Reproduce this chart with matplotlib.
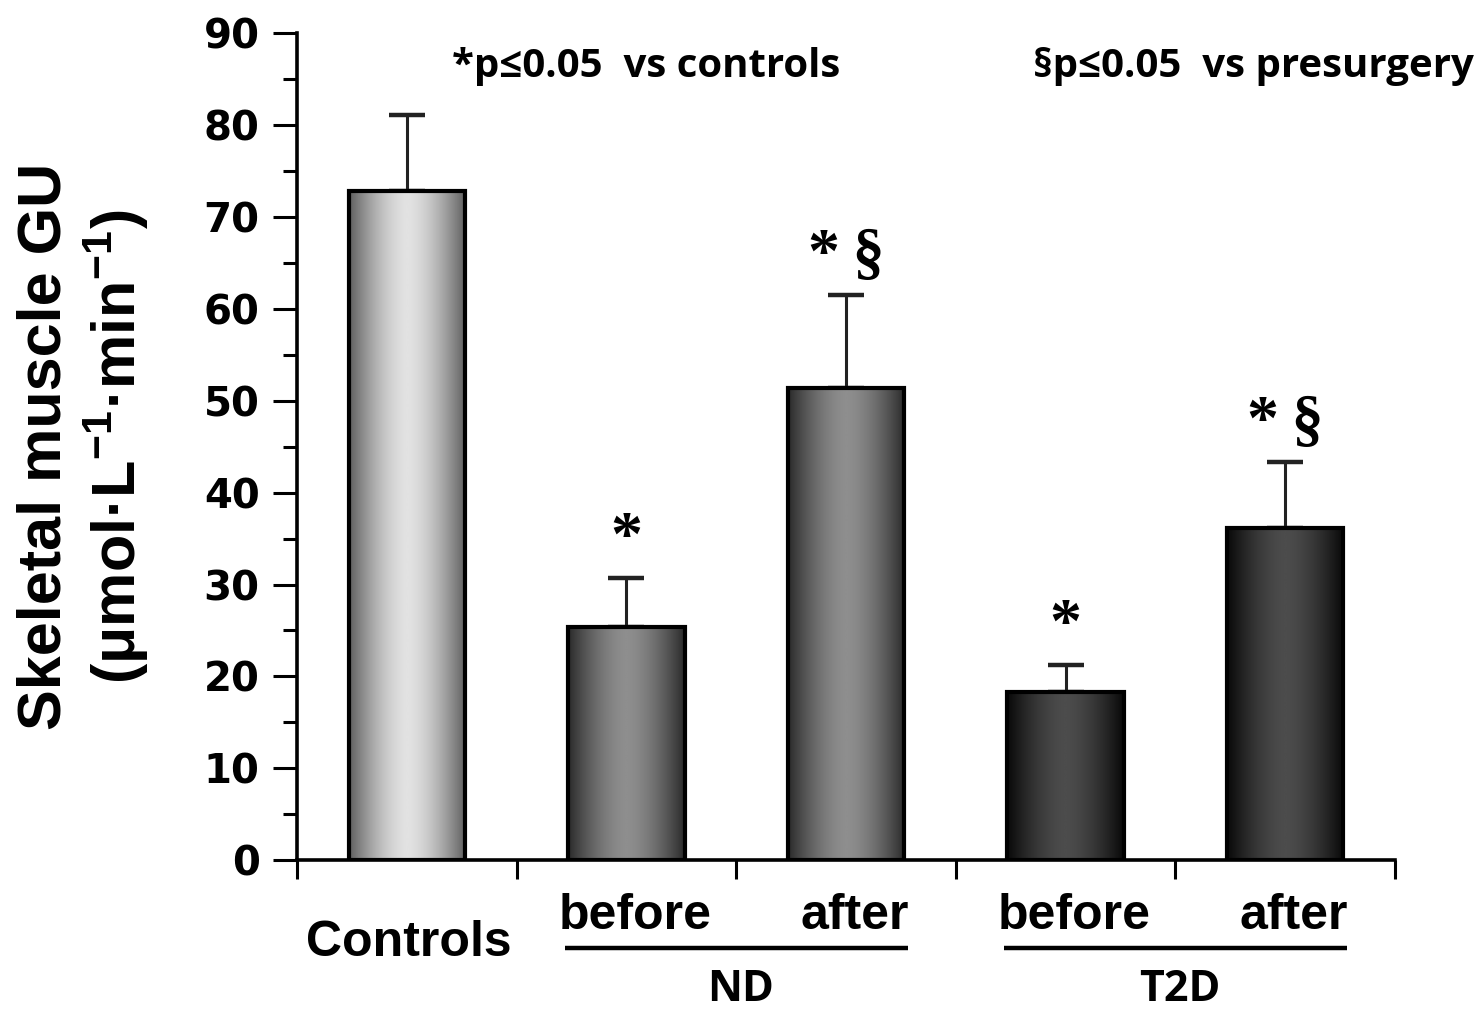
import matplotlib
matplotlib.use("Agg")
import matplotlib.pyplot as plt
import numpy as np
from matplotlib.colors import LinearSegmentedColormap

# data
bar_labels = ['Controls', 'before', 'after', 'before', 'after']
groups = ['ND', 'T2D']
means = [72.8, 25.4, 51.4, 18.3, 36.1]
errors = [8.3, 5.3, 10.1, 2.9, 7.2]
marks = ['', '*', '*\u2009§', '*', '*\u2009§']
notes = ['*p≤0.05  vs controls', '§p≤0.05  vs presurgery']

# bar shading: (edge colour, centre colour)
shades = [('#5e5e5e', '#e2e2e2'), ('#2a2a2a', '#8e8e8e'), ('#2a2a2a', '#8e8e8e'),
          ('#080808', '#4c4c4c'), ('#080808', '#4c4c4c')]

sans = 'Liberation Sans'
plt.rcParams['mathtext.fontset'] = 'custom'
plt.rcParams['mathtext.rm'] = 'Liberation Sans'
plt.rcParams['mathtext.bf'] = 'Liberation Sans:bold'

fig = plt.figure(figsize=(14.83, 10.13), dpi=100)
ax = fig.add_axes([0.2003, 0.151, 0.7404, 0.816])

x = np.arange(len(means))
bars = ax.bar(x, means, width=0.53, facecolor='none', edgecolor='black',
              linewidth=3.0, zorder=3)
ax.errorbar(x, means, yerr=[np.zeros(len(errors)), errors], fmt='none',
            ecolor='#222222', elinewidth=2.2, capsize=13, capthick=3.2, zorder=2)

# gradient fill clipped to each bar
grad = np.abs(np.linspace(-1, 1, 256)) ** 1.6
grad = grad.reshape(1, -1)
for b, (edge, mid) in zip(bars, shades):
    cmap = LinearSegmentedColormap.from_list('g', [mid, edge])
    x0, y0 = b.get_x(), b.get_y()
    im = ax.imshow(grad, cmap=cmap, vmin=0, vmax=1, aspect='auto',
                   extent=[x0, x0 + b.get_width(), y0, y0 + b.get_height()],
                   zorder=2.5, interpolation='bilinear')
    im.set_clip_path(b)

# significance marks above error bars
for xi, m, e, mk in zip(x, means, errors, marks):
    if mk:
        ax.text(xi, m + e + 1.0, mk, ha='center', va='bottom',
                fontsize=46, family='Liberation Serif', fontweight='bold')

ax.set_xlim(-0.5, 4.5)
ax.set_ylim(0, 90)
ax.set_yticks(np.arange(0, 91, 10))
ax.set_yticks(np.arange(5, 90, 10), minor=True)
ax.set_xticks(np.arange(-0.5, 4.6, 1))
ax.set_xticklabels([])
for s in ['top', 'right']:
    ax.spines[s].set_visible(False)
for s in ['left', 'bottom']:
    ax.spines[s].set_linewidth(2.6)
ax.tick_params(axis='y', which='major', length=17, width=2.2, pad=10,
               labelsize=29)
ax.tick_params(axis='y', which='minor', length=10, width=2.2)
ax.tick_params(axis='x', which='major', length=14, width=2.2, direction='out')
for t in ax.get_yticklabels():
    t.set_fontweight('bold')
    t.set_family('DejaVu Sans')

ax.set_ylabel('Skeletal muscle GU\n(μmol·L$^{\\mathbf{-1}}$·min$^{\\mathbf{-1}}$)',
              fontsize=44, fontweight='bold', family=sans, labelpad=38,
              linespacing=1.14)

# category labels under the axis
tr = ax.get_xaxis_transform()
ax.text(0.01, -0.100, bar_labels[0], transform=tr, ha='center', va='center',
        fontsize=36, fontweight='bold', family=sans)
for xi in x[1:]:
    ax.text(xi + 0.04, -0.068, bar_labels[xi], transform=tr, ha='center',
            va='center', fontsize=36, fontweight='bold', family=sans)
for gi, g in enumerate(groups):
    a, b = 1 + 2 * gi, 2 + 2 * gi
    ax.plot([a - 0.28, b + 0.28], [-0.106, -0.106], transform=tr, color='black',
            lw=3.2, clip_on=False, solid_capstyle='butt')
    ax.text((a + b) / 2 + 0.02, -0.170, g, transform=tr, ha='center',
            va='baseline', fontsize=31, fontweight='bold', family='Open Sans')

# p-value notes at top
fig.text(0.436, 0.934, notes[0], ha='center', va='center', fontsize=29,
         fontweight='bold', family='Open Sans')
fig.text(0.845, 0.934, notes[1], ha='center', va='center', fontsize=29,
         fontweight='bold', family='Open Sans')

fig.savefig('out.png', dpi=100)
